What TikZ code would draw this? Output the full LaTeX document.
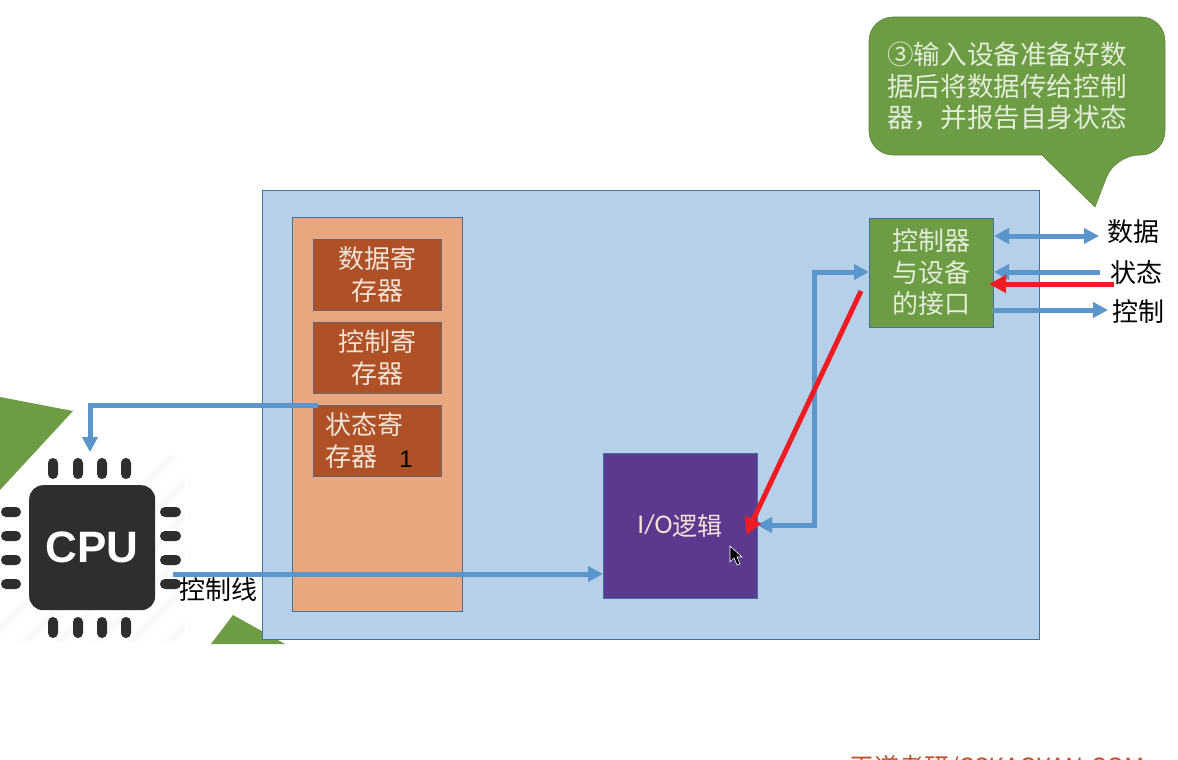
\documentclass[tikz,border=0pt]{standalone}
\usepackage{fontspec}
\setmainfont{Noto Sans CJK SC}
\newfontfamily\latinbold{Liberation Sans}
\newfontfamily\latinsans{Carlito}
\usetikzlibrary{arrows.meta}
\definecolor{panelblue}{HTML}{B5D0E8}
\definecolor{edgeblue}{HTML}{41719C}
\definecolor{peach}{HTML}{EAA67F}
\definecolor{rust}{HTML}{AE5126}
\definecolor{leaf}{HTML}{6E9C45}
\definecolor{plum}{HTML}{5B398F}
\definecolor{wire}{HTML}{5A96CC}
\definecolor{hot}{HTML}{EE1C25}
\definecolor{chip}{HTML}{2E2E2E}
\definecolor{cream}{HTML}{F3E2D6}
\definecolor{pale}{HTML}{E2EDD8}
\definecolor{mark}{HTML}{C0502A}
\tikzset{
 boxbase/.style={draw=edgeblue,line width=1pt,inner sep=0pt,outer sep=0pt,anchor=north west},
 regbox/.style={boxbase,draw=edgeblue!70!rust,fill=rust,text=cream,minimum width=128pt,minimum height=71pt,align=center,font=\fontsize{26}{31.5}\selectfont},
 wireline/.style={draw=wire,line width=5pt,-{Triangle[length=15pt,width=15pt]}},
 wiretwo/.style={draw=wire,line width=5pt,{Triangle[length=15pt,width=15pt]}-{Triangle[length=15pt,width=15pt]}},
 hotline/.style={draw=hot,line width=5pt,-{Triangle[length=17pt,width=17pt]}},
 tag/.style={inner sep=0pt,text=black,font=\fontsize{26}{30}\selectfont},
 pin/.style={fill=chip,rounded corners=4.9pt},
 leafshape/.style={fill=leaf},
}
\begin{document}
\begin{tikzpicture}[x=1pt,y=-1pt]
\useasboundingbox (0,0) rectangle (1178,760);
\clip (0,0) rectangle (1178,760);
\fill[white] (0,0) rectangle (1178,760);
% faint bottom mark
\node[inner sep=0pt,anchor=base west,text=mark,font=\fontsize{25}{30}\selectfont] (brand) at (849,776) {王道考研/CSKAOYAN.COM};
\fill[white] (0,644) rectangle (1178,752);
% partial shapes
\fill[leafshape] (0,397) -- (73,411) -- (0,490) -- cycle;
\fill[leafshape] (233,615) -- (285,644) -- (211,644) -- cycle;
% panels
\node[boxbase,fill=panelblue,minimum width=777pt,minimum height=449pt] (panel) at (262,190) {};
\node[boxbase,fill=peach,minimum width=170pt,minimum height=394pt] (regs) at (292,217) {};
\node[regbox] (datareg) at (313,239) {数据寄\\存器};
\node[regbox] (ctrlreg) at (313,322) {控制寄\\存器};
\node[regbox,text width=104pt,inner xsep=12pt,align=left] (statreg) at (313,405) {状态寄\\存器};
\node[inner sep=0pt,text=black,font=\latinbold\fontsize{24}{24}\selectfont] (one) at (406,459) {1};
\node[boxbase,fill=plum,text=cream,minimum width=154pt,minimum height=145pt,font=\fontsize{25}{30}\selectfont] (io) at (603,453) {\raisebox{2pt}{\latinsans\fontsize{27}{30}\selectfont I/O}逻辑};
\node[boxbase,fill=leaf,text=pale,minimum width=124pt,minimum height=109pt,align=center,font=\fontsize{26}{31.5}\selectfont] (ctrl) at (869,218) {控制器\\与设备\\的接口};
% callout
\draw[leafshape,draw=leaf!85!black,line width=0.6pt,rounded corners=24pt] (1042,155) -- (869,155) -- (869,17) -- (1165,17) -- (1165,155) -- (1115,155) [sharp corners] -- (1095,207) -- cycle;
\node[inner sep=0pt,anchor=north west,text=pale,align=left,font=\fontsize{26.6}{31.5}\selectfont] (note) at (887,42) {③输入设备准备好数\\据后将数据传给控制\\器，并报告自身状态};
% CPU
\begin{scope}
\clip (0,455) rectangle (185,642);
\foreach \d in {0,36,...,360}{\draw[line width=6pt,black!2] (\d-30,660) -- (\d+200,430);}
\end{scope}
\foreach \x in {53,78,102,126}{
 \fill[pin] (\x-5,458) rectangle (\x+5,479);
 \fill[pin] (\x-5,617) rectangle (\x+5,638);
}
\foreach \y in {512,536,560,584}{
 \fill[pin] (1,\y-5) rectangle (21,\y+5);
 \fill[pin] (160,\y-5) rectangle (181,\y+5);
}
\node[fill=chip,rounded corners=14pt,inner sep=0pt,minimum width=126pt,minimum height=125pt,anchor=north west,text=white,font=\latinbold\bfseries\fontsize{44}{44}\selectfont] (cpu) at (29,485) {\raisebox{-2pt}{CPU}};
% labels
\node[tag] (tagdata) at (1133,232) {数据};
\node[tag] (tagstat) at (1136,273) {状态};
\node[tag] (tagctrl) at (1138,312) {控制};
\node[tag] (tagline) at (218.5,590) {控制线};
% connector ends
\coordinate (sregout) at (318,405);
\coordinate (cpuin) at (90,452);
\coordinate (cpuout) at (173,574);
\coordinate (ioin) at (603,574);
\coordinate (ctrlleft) at (869,272);
\coordinate (ioright) at (757,525);
\coordinate (bend) at (814,400);
\coordinate (dataL) at (994,236);
\coordinate (dataR) at (1099,236);
\coordinate (statL) at (994,272);
\coordinate (statR) at (1100,272);
\coordinate (ctrlL) at (993,310);
\coordinate (ctrlR) at (1108,310);
\coordinate (hotA) at (1114,284);
\coordinate (hotB) at (989,284);
\coordinate (hotC) at (861,291);
\coordinate (hotD) at (746,535);
% connectors
\draw[wireline] (sregout) -| (cpuin);
\draw[wireline] (cpuout) -- (ioin);
\draw[wiretwo] (ctrlleft) -| (bend) |- (ioright);
\draw[wiretwo] (dataL) -- (dataR);
\draw[wireline] (statR) -- (statL);
\draw[wireline] (ctrlL) -- (ctrlR);
\draw[hotline] (hotA) -- (hotB);
\draw[hotline] (hotC) -- (hotD);
% pointer
\draw[fill=black,draw=white,line width=0.6pt] (730,546) -- (730,562) -- (734,558) -- (737,565) -- (740,564) -- (737,557) -- (742,557) -- cycle;
\end{tikzpicture}
\end{document}
